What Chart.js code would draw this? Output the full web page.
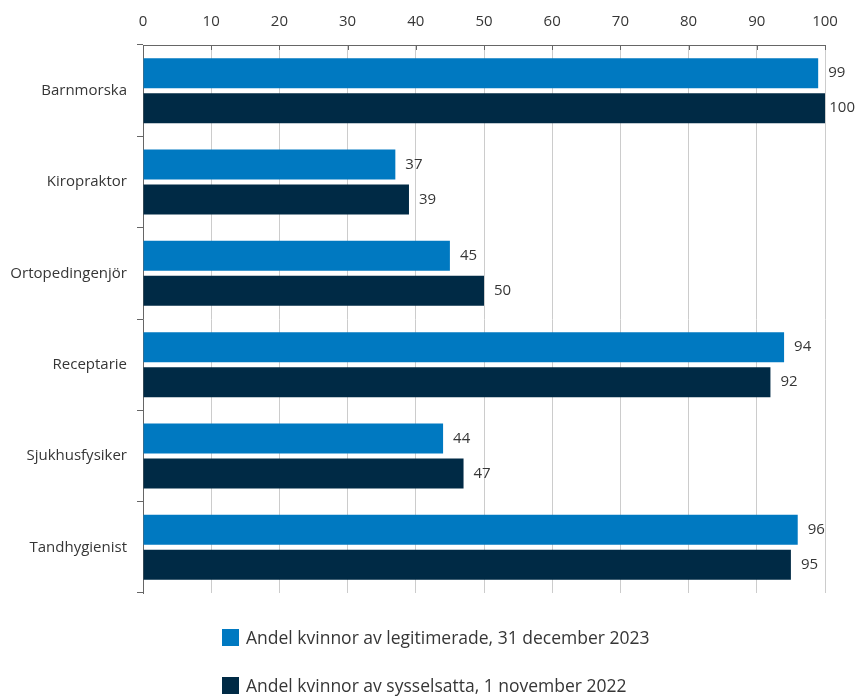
<!DOCTYPE html>
<html>
<head>
<meta charset="utf-8">
<script src="https://cdn.jsdelivr.net/npm/chart.js@4/dist/chart.umd.min.js"></script>
<style>
  html, body { margin: 0; padding: 0; background: #fff; }
  #wrap { width: 857px; height: 696px; }
</style>
</head>
<body>
<div id="wrap"><canvas id="chart"></canvas></div>
<script>
// Data
const categories = ['Barnmorska', 'Kiropraktor', 'Ortopedingenjör', 'Receptarie', 'Sjukhusfysiker', 'Tandhygienist'];
const legitimerade = [99, 37, 45, 94, 44, 96];
const sysselsatta = [100, 39, 50, 92, 47, 95];
const seriesNames = ['Andel kvinnor av legitimerade, 31 december 2023', 'Andel kvinnor av sysselsatta, 1 november 2022'];
const xTicks = [0, 10, 20, 30, 40, 50, 60, 70, 80, 90, 100];

const FONT = "'Open Sans', 'Noto Sans', sans-serif";
const TEXT = '#363636';

// value labels to the right of each bar
const valueLabels = {
    id: 'valueLabels',
    afterDatasetsDraw(chart) {
        const ctx = chart.ctx;
        ctx.save();
        ctx.font = '15px ' + FONT;
        ctx.fillStyle = TEXT;
        ctx.textAlign = 'left';
        ctx.textBaseline = 'middle';
        chart.data.datasets.forEach((ds, i) => {
            chart.getDatasetMeta(i).data.forEach((bar, j) => {
                const txt = String(ds.data[j]);
                const w = ctx.measureText(txt).width;
                const x = Math.min(bar.x + 10, chart.width - w - 2);
                ctx.fillText(txt, x, bar.y);
            });
        });
        ctx.restore();
    }
};

// small tick marks pointing down from the top axis line
const innerTicks = {
    id: 'innerTicks',
    afterDraw(chart) {
        const ctx = chart.ctx, x = chart.scales.x, top = chart.chartArea.top;
        ctx.save();
        ctx.strokeStyle = '#666';
        ctx.lineWidth = 1;
        xTicks.forEach(v => {
            const px = Math.round(x.getPixelForValue(v)) + 0.5;
            ctx.beginPath();
            ctx.moveTo(px, top);
            ctx.lineTo(px, top + 5);
            ctx.stroke();
        });
        ctx.restore();
    }
};

// stacked legend at the bottom
const stackedLegend = {
    id: 'stackedLegend',
    afterDraw(chart) {
        const ctx = chart.ctx;
        ctx.save();
        ctx.font = '17.5px ' + FONT;
        ctx.textBaseline = 'middle';
        ctx.textAlign = 'left';
        chart.data.datasets.forEach((ds, i) => {
            const cy = 638 + i * 48;
            ctx.fillStyle = ds.backgroundColor;
            ctx.fillRect(222, cy - 9, 17, 17);
            ctx.fillStyle = TEXT;
            ctx.fillText(ds.label, 246, cy + 1);
        });
        ctx.restore();
    }
};

new Chart(document.getElementById('chart'), {
    type: 'bar',
    data: {
        labels: categories,
        datasets: [
            { label: seriesNames[0], data: legitimerade, backgroundColor: '#0079c1', categoryPercentage: 0.766, barPercentage: 0.857 },
            { label: seriesNames[1], data: sysselsatta, backgroundColor: '#002a45', categoryPercentage: 0.766, barPercentage: 0.857 }
        ]
    },
    options: {
        indexAxis: 'y',
        responsive: true,
        maintainAspectRatio: false,
        animation: false,
        layout: { padding: { left: 0, right: 32, top: 0, bottom: 103 } },
        plugins: { legend: { display: false }, tooltip: { enabled: false } },
        scales: {
            x: {
                position: 'top',
                min: 0, max: 100,
                afterBuildTicks: s => { s.ticks = xTicks.map(v => ({ value: v })); },
                afterFit: s => { s.height = 45; },
                grid: { color: '#cccccc', tickLength: 0, drawTicks: false },
                border: { display: true, color: '#666666', width: 1 },
                ticks: { color: TEXT, font: { family: FONT, size: 15 }, padding: 14 }
            },
            y: {
                afterFit: s => { s.width = 143; },
                grid: { color: '#666666', drawOnChartArea: false, tickLength: 6, offset: true },
                border: { display: true, color: '#666666', width: 1 },
                ticks: { color: TEXT, font: { family: FONT, size: 15 }, padding: 10 }
            }
        }
    },
    plugins: [valueLabels, innerTicks, stackedLegend]
});
</script>
</body>
</html>
